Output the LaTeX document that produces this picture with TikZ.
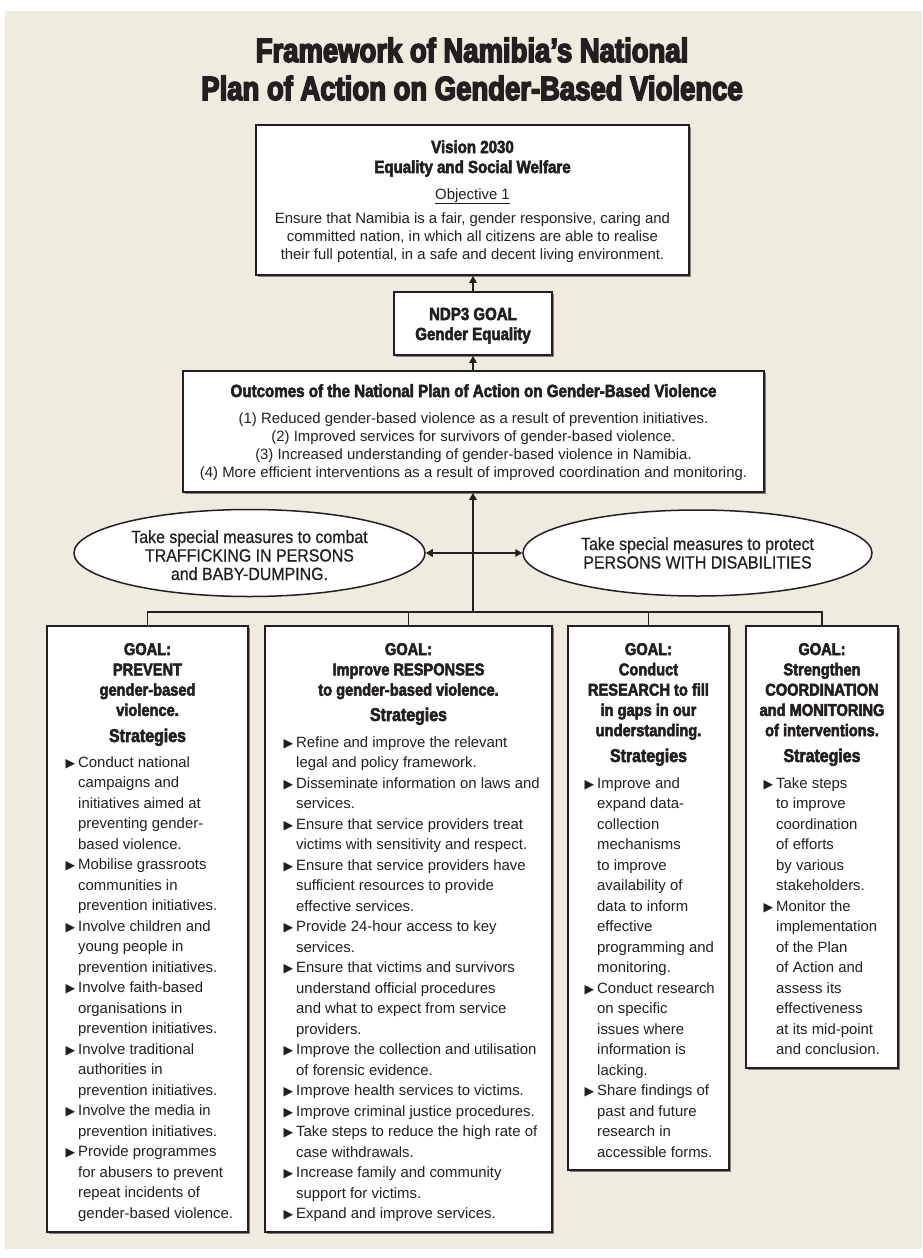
\documentclass[tikz,border=0pt]{standalone}
\usepackage{fontspec}
\setmainfont{Liberation Sans}
\newfontfamily\hdfont{Liberation Sans Bold}[FakeStretch=0.86,FakeBold=3]
\newfontfamily\ttlfont{Liberation Sans Bold}[FakeStretch=0.82,FakeBold=4.5]
\newfontfamily\elfont{Liberation Sans}[FakeStretch=0.9,FakeBold=0.6]
\newfontfamily\symfont{DejaVu Sans}
\usetikzlibrary{arrows.meta,shapes.geometric,shadows}
\definecolor{bgc}{HTML}{EFEBDF}
\definecolor{ink}{HTML}{231F20}
\newcommand\bl{\llap{{\symfont\fontsize{12.5}{10}\selectfont ▶}\hspace{3pt}}}
\newcommand\ctab[1]{\begin{tabular}[t]{@{}c@{}}#1\end{tabular}}
\newcommand\ltab[1]{\begin{tabular}[t]{@{}l@{}}#1\end{tabular}}
\begin{document}
\begin{tikzpicture}[x=1pt,y=-1pt,
  box/.style={draw=ink, line width=1.8pt, fill=white, inner sep=0,
    drop shadow={shadow xshift=1.6pt, shadow yshift=-1.6pt, fill=black, opacity=0.45}},
  oval/.style={ellipse, draw=ink, line width=1.5pt, fill=white, inner sep=0},
  conn/.style={draw=ink, line width=1.6pt},
  arr/.style={conn, -{Triangle[length=7pt,width=7.5pt]}},
  txt/.style={inner sep=0, text=ink},
  hdtxt/.style={txt, anchor=base, font=\hdfont\fontsize{17}{20.3}\selectfont},
  sttxt/.style={txt, anchor=base, font=\hdfont\fontsize{18.5}{20}\selectfont},
  bodytxt/.style={txt, anchor=base, font=\fontsize{14.9}{18.3}\selectfont},
  eltxt/.style={txt, anchor=base, font=\elfont\fontsize{17.7}{18.5}\selectfont},
  listtxt/.style={txt, anchor=base west, font=\fontsize{14.9}{20.5}\selectfont},
]
\useasboundingbox (0,0) rectangle (922,1258);
\fill[white] (0,0) rectangle (922,1258);
\fill[bgc] (5,11) rectangle (922,1249);

% title
\node[txt, anchor=base, font=\ttlfont\fontsize{33.5}{38}\selectfont] (title) at (472,62)
  {\ctab{Framework of Namibia’s National\\Plan of Action on Gender-Based Violence}};

% boxes
\node[box, minimum width=433pt, minimum height=150pt] (vision) at (472.5,200) {};
\node[box, minimum width=158pt, minimum height=63pt] (ndp) at (473,323.5) {};
\node[box, minimum width=581pt, minimum height=121pt] (outc) at (473.5,431.5) {};
\node[oval, minimum width=351pt, minimum height=87pt] (ell1) at (249.5,553) {};
\node[oval, minimum width=349pt, minimum height=86pt] (ell2) at (697.5,553) {};
\node[box, minimum width=201pt, minimum height=606pt] (b1) at (147.5,929) {};
\node[box, minimum width=287pt, minimum height=606pt] (b2) at (408.5,929) {};
\node[box, minimum width=161pt, minimum height=544pt] (b3) at (648.5,898) {};
\node[box, minimum width=152pt, minimum height=442pt] (b4) at (822,847) {};

% connectors
\coordinate (bus) at (473,612);
\draw[conn] (b1.north) -- (b1.north |- bus) -- (b4.north |- bus) -- (b4.north);
\draw[conn] (b2.north) -- (b2.north |- bus);
\draw[conn] (b3.north) -- (b3.north |- bus);
\draw[arr] (bus) -- (bus |- outc.south);
\draw[conn, {Triangle[length=7pt,width=7.5pt]}-{Triangle[length=7pt,width=7.5pt]}] (ell1.east) -- (ell2.west);
\draw[arr] (ndp.south |- outc.north) -- (ndp.south);
\draw[arr] (ndp.north) -- (ndp.north |- vision.south);

% vision text
\node[hdtxt, font=\hdfont\fontsize{17.5}{20}\selectfont] (vt) at (472.5,153) {\ctab{Vision 2030\\Equality and Social Welfare}};
\node[bodytxt] (obj) at (472.5,199) {\underline{Objective 1}};
\node[bodytxt] (vbody) at (472.5,223) {\ctab{Ensure that Namibia is a fair, gender responsive, caring and\\committed nation, in which all citizens are able to realise\\their full potential, in a safe and decent living environment.}};

% ndp text
\node[hdtxt, font=\hdfont\fontsize{17.5}{20}\selectfont] (ndpt) at (473,320) {\ctab{NDP3 GOAL\\Gender Equality}};

% outcomes text
\node[hdtxt, font=\hdfont\fontsize{17.6}{20}\selectfont] (outt) at (473.5,397) {Outcomes of the National Plan of Action on Gender-Based Violence};
\node[bodytxt] (outb) at (473.5,423) {\ctab{(1) Reduced gender-based violence as a result of prevention initiatives.\\(2) Improved services for survivors of gender-based violence.\\(3) Increased understanding of gender-based violence in Namibia.\\(4) More efficient interventions as a result of improved coordination and monitoring.}};

% ellipse text
\node[eltxt] (e1t) at (249.5,543) {\ctab{Take special measures to combat\\TRAFFICKING IN PERSONS\\and BABY-DUMPING.}};
\node[eltxt] (e2t) at (697.5,550) {\ctab{Take special measures to protect\\PERSONS WITH DISABILITIES}};

% box 1
\node[hdtxt] (b1h) at (147.5,655) {\ctab{GOAL:\\PREVENT\\gender-based\\violence.}};
\node[sttxt] (b1s) at (147.5,742) {Strategies};
\node[listtxt] (b1l) at (78,767) {\ltab{\bl Conduct national\\campaigns and\\initiatives aimed at\\preventing gender-\\based violence.\\
\bl Mobilise grassroots\\communities in\\prevention initiatives.\\
\bl Involve children and\\young people in\\prevention initiatives.\\
\bl Involve faith-based\\organisations in\\prevention initiatives.\\
\bl Involve traditional\\authorities in\\prevention initiatives.\\
\bl Involve the media in\\prevention initiatives.\\
\bl Provide programmes\\for abusers to prevent\\repeat incidents of\\gender-based violence.}};

% box 2
\node[hdtxt] (b2h) at (408.5,655) {\ctab{GOAL:\\Improve RESPONSES\\to gender-based violence.}};
\node[sttxt] (b2s) at (408.5,721) {Strategies};
\node[listtxt] (b2l) at (296,747) {\ltab{\bl Refine and improve the relevant\\legal and policy framework.\\
\bl Disseminate information on laws and\\services.\\
\bl Ensure that service providers treat\\victims with sensitivity and respect.\\
\bl Ensure that service providers have\\sufficient resources to provide\\effective services.\\
\bl Provide 24-hour access to key\\services.\\
\bl Ensure that victims and survivors\\understand official procedures\\and what to expect from service\\providers.\\
\bl Improve the collection and utilisation\\of forensic evidence.\\
\bl Improve health services to victims.\\
\bl Improve criminal justice procedures.\\
\bl Take steps to reduce the high rate of\\case withdrawals.\\
\bl Increase family and community\\support for victims.\\
\bl Expand and improve services.}};

% box 3
\node[hdtxt] (b3h) at (648.5,655) {\ctab{GOAL:\\Conduct\\RESEARCH to fill\\in gaps in our\\understanding.}};
\node[sttxt] (b3s) at (648.5,762) {Strategies};
\node[listtxt] (b3l) at (597,788) {\ltab{\bl Improve and\\expand data-\\collection\\mechanisms\\to improve\\availability of\\data to inform\\effective\\programming and\\monitoring.\\
\bl Conduct research\\on specific\\issues where\\information is\\lacking.\\
\bl Share findings of\\past and future\\research in\\accessible forms.}};

% box 4
\node[hdtxt] (b4h) at (822,655) {\ctab{GOAL:\\Strengthen\\COORDINATION\\and MONITORING\\of interventions.}};
\node[sttxt] (b4s) at (822,762) {Strategies};
\node[listtxt] (b4l) at (776,788) {\ltab{\bl Take steps\\to improve\\coordination\\of efforts\\by various\\stakeholders.\\
\bl Monitor the\\implementation\\of the Plan\\of Action and\\assess its\\effectiveness\\at its mid-point\\and conclusion.}};
\end{tikzpicture}
\end{document}
